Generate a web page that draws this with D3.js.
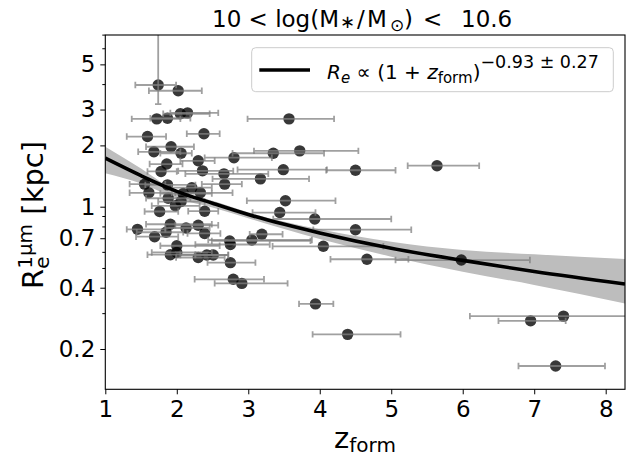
<!DOCTYPE html>
<html lang="en">
<head>
<meta charset="UTF-8">
<title>Re vs zform</title>
<style>
  body { margin: 0; background: #fff; }
  text { font-family: "DejaVu Sans", sans-serif; fill: #000; }
</style>
</head>
<body>
<svg width="629" height="460"></svg>
<script src="https://d3js.org/d3.v7.min.js"></script>
<script>

// one entry per galaxy: formation redshift, its range, and size in kpc
var zForm = [1.74, 2.02, 1.72, 1.87, 2.05, 2.15, 3.57, 1.59, 2.38, 1.92,
             1.68, 2.06, 3.35, 3.72, 2.80, 2.30, 1.86, 2.36, 1.78, 2.66,
             3.49, 4.50, 5.64, 3.17, 2.67, 1.55, 2.21, 1.87, 2.33, 1.61,
             2.09, 1.88, 3.52, 1.98, 2.06, 1.76, 2.39, 3.44, 3.93, 1.91,
             2.30, 1.45, 2.13, 1.85, 2.39, 1.69, 2.74, 2.75, 3.05, 2.00,
             1.91, 2.00, 2.30, 2.42, 2.51, 2.75, 2.79, 2.91, 3.19, 3.94,
             4.50, 4.05, 4.66, 5.98, 7.41, 6.95, 4.39, 7.30];
var zLow = [1.42, 1.61, 1.37, 1.63, 1.81, 1.91, 2.99, 1.30, 2.14, 1.57,
            1.46, 1.77, 2.78, 3.08, 2.39, 2.05, 1.62, 2.02, 1.59, 2.12,
            2.85, 4.09, 5.23, 2.50, 2.35, 1.34, 1.93, 1.56, 1.98, 1.34,
            1.77, 1.57, 2.98, 1.65, 1.74, 1.55, 2.16, 3.06, 3.35, 1.57,
            1.98, 1.30, 1.84, 1.44, 2.15, 1.43, 2.49, 2.26, 2.44, 1.77,
            1.59, 1.65, 1.99, 2.05, 2.26, 2.43, 2.25, 2.53, 3.02, 3.71,
            3.91, 3.34, 4.15, 5.06, 6.10, 6.50, 3.90, 6.78];
var zHigh = [1.99, 2.35, 2.05, 2.19, 2.46, 2.58, 4.20, 1.85, 2.60, 2.24,
             2.05, 2.21, 4.06, 4.54, 3.33, 2.53, 2.08, 2.79, 2.00, 3.28,
             4.10, 5.06, 6.23, 3.85, 2.91, 1.84, 2.49, 2.26, 2.78, 1.93,
             2.49, 2.19, 4.22, 2.32, 2.39, 2.02, 2.58, 3.94, 5.00, 2.49,
             2.58, 1.84, 2.46, 2.09, 2.61, 2.02, 3.87, 3.30, 3.89, 2.60,
             2.26, 2.49, 2.67, 2.72, 2.72, 3.10, 3.22, 3.55, 3.48, 4.19,
             5.28, 4.89, 5.24, 6.94, 8.70, 7.44, 5.13, 7.99];
var reKpc = [3.96, 3.71, 2.70, 2.72, 2.86, 2.89, 2.70, 2.21, 2.28, 1.97,
             1.86, 1.83, 1.83, 1.88, 1.74, 1.68, 1.62, 1.50, 1.49, 1.45,
             1.52, 1.51, 1.59, 1.37, 1.29, 1.29, 1.24, 1.28, 1.17, 1.17,
             1.16, 1.10, 1.07, 1.01, 1.06, 0.947, 0.950, 0.936, 0.870, 0.820,
             0.810, 0.774, 0.786, 0.749, 0.739, 0.712, 0.679, 0.652, 0.686, 0.643,
             0.581, 0.596, 0.563, 0.579, 0.579, 0.531, 0.440, 0.420, 0.732, 0.333,
             0.771, 0.639, 0.552, 0.547, 0.290, 0.275, 0.236, 0.165];

// the only visible vertical error bar
var vErrIndex = [0];
var vErrLow = [3.19];
var vErrHigh = [9.0];

// fitted relation and its shaded range
var fitZ = [1, 1.5, 2, 2.5, 3, 4, 5, 6, 7, 8.27];
var fitRe = [1.73, 1.42, 1.19, 1.04, 0.915, 0.743, 0.625, 0.545, 0.48, 0.417];
var bandLow = [1.46, 1.30, 1.10, 0.99, 0.877, 0.694, 0.568, 0.479, 0.413, 0.335];
var bandHigh = [1.97, 1.54, 1.19, 1.07, 0.939, 0.774, 0.673, 0.613, 0.584, 0.553];

var xTicks = [1, 2, 3, 4, 5, 6, 7, 8];
var yTicks = [0.2, 0.4, 0.7, 1, 2, 3, 5];
var yMinorTicks = [0.3, 0.5, 0.6, 0.8, 0.9, 4, 6, 7];

var svg = d3.select("svg"),
    box = {left: 105.3, right: 625, top: 35, bottom: 389.3};

var x = d3.scaleLinear().domain([1, 8.27]).range([box.left, box.right]);
var y = d3.scaleLog().domain([0.1268, 6.97]).range([box.bottom, box.top]);

svg.append("defs").append("clipPath").attr("id", "plotclip")
    .append("rect")
    .attr("x", box.left).attr("y", box.top)
    .attr("width", box.right - box.left).attr("height", box.bottom - box.top);

var plot = svg.append("g").attr("clip-path", "url(#plotclip)");

// shaded band
var band = d3.area()
    .x(function(d, i) { return x(fitZ[i]); })
    .y0(function(d, i) { return y(bandLow[i]); })
    .y1(function(d, i) { return y(bandHigh[i]); })
    .curve(d3.curveMonotoneX);

plot.append("path")
    .datum(fitZ)
    .attr("d", band)
    .attr("fill", "#bdbdbd");

// points
var idx = d3.range(zForm.length);

plot.selectAll(".dot")
    .data(idx)
    .enter().append("circle")
    .attr("class", "dot")
    .attr("cx", function(i) { return x(zForm[i]); })
    .attr("cy", function(i) { return y(reKpc[i]); })
    .attr("r", 5.7)
    .attr("fill", "#000")
    .attr("fill-opacity", 0.78);

var bars = plot.append("g")
    .attr("stroke", "#808080")
    .attr("stroke-opacity", 0.75)
    .attr("stroke-width", 1.8);

bars.selectAll(".xbar")
    .data(idx)
    .enter().append("path")
    .attr("class", "xbar")
    .attr("fill", "none")
    .attr("d", function(i) {
        var yy = y(reKpc[i]), x0 = x(zLow[i]), x1 = x(zHigh[i]);
        return "M" + x0 + "," + yy + "H" + x1 +
               "M" + x0 + "," + (yy - 3.2) + "V" + (yy + 3.2) +
               "M" + x1 + "," + (yy - 3.2) + "V" + (yy + 3.2);
    });

bars.selectAll(".ybar")
    .data(vErrIndex)
    .enter().append("path")
    .attr("fill", "none")
    .attr("d", function(i, k) {
        var xx = x(zForm[i]), y0 = y(vErrLow[k]), y1 = y(vErrHigh[k]);
        return "M" + xx + "," + y0 + "V" + y1 +
               "M" + (xx - 3.2) + "," + y0 + "H" + (xx + 3.2);
    });

// fit line
var fitLine = d3.line()
    .x(function(d, i) { return x(fitZ[i]); })
    .y(function(d, i) { return y(fitRe[i]); })
    .curve(d3.curveMonotoneX);

plot.append("path")
    .datum(fitZ)
    .attr("d", fitLine)
    .attr("fill", "none")
    .attr("stroke", "#000")
    .attr("stroke-width", 3.6);

// axes
var xAxis = d3.axisBottom(x)
    .tickValues(xTicks)
    .tickSize(5)
    .tickPadding(6)
    .tickFormat(d3.format("d"));

svg.append("g")
    .attr("transform", "translate(0," + box.bottom + ")")
    .call(xAxis)
    .call(function(g) { g.select(".domain").remove(); });

var yAxis = d3.axisLeft(y)
    .tickValues(yTicks)
    .tickSize(5)
    .tickPadding(5)
    .tickFormat(function(d) { return String(d); });

svg.append("g")
    .attr("transform", "translate(" + box.left + ",0)")
    .call(yAxis)
    .call(function(g) { g.select(".domain").remove(); });

svg.append("g")
    .attr("transform", "translate(" + box.left + ",0)")
    .call(d3.axisLeft(y).tickValues(yMinorTicks).tickSize(3).tickFormat(""))
    .call(function(g) { g.select(".domain").remove(); });

svg.selectAll(".tick text")
    .style("font-family", "DejaVu Sans")
    .style("font-size", "23px")
    .attr("fill", "#000");
svg.selectAll(".tick line").attr("stroke", "#000").attr("stroke-width", 1);

svg.append("rect")
    .attr("x", box.left).attr("y", box.top)
    .attr("width", box.right - box.left).attr("height", box.bottom - box.top)
    .attr("fill", "none")
    .attr("stroke", "#000")
    .attr("stroke-width", 1.1);

// title
var title = svg.append("text")
    .attr("x", 212).attr("y", 26.5)
    .style("font-size", "23px");
title.append("tspan").text("10 < log(M");
title.append("tspan").attr("x", 340).attr("dy", 1).style("font-size", "18px").text("\u2217");
title.append("tspan").attr("x", 357).attr("dy", -1).text("/");
title.append("tspan").attr("x", 367).text("M");
title.append("tspan").attr("x", 390).attr("dy", 4).style("font-size", "17px").text("\u2299");
title.append("tspan").attr("x", 404).attr("dy", -4).text(")");
title.append("tspan").attr("x", 423).text("<");
title.append("tspan").attr("x", 461).text("10.6");

// x label
var xLabel = svg.append("text")
    .attr("x", 365).attr("y", 448)
    .attr("text-anchor", "middle")
    .style("font-size", "29px");
xLabel.append("tspan").text("z");
xLabel.append("tspan").attr("dy", 4).style("font-size", "20px").text("form");

// y label
var yLabel = svg.append("text")
    .attr("transform", "translate(43,0) rotate(-90)")
    .attr("x", -289)
    .attr("y", 0)
    .style("font-size", "29px");
yLabel.append("tspan").text("R");
yLabel.append("tspan").attr("dy", 6).style("font-size", "20px").text("e");
yLabel.append("tspan").attr("dx", -12.3).attr("dy", -17).style("font-size", "20px").text("1\u03bcm");
yLabel.append("tspan").attr("dy", 11).text(" [kpc]");

// legend
var legend = svg.append("g");
legend.append("rect")
    .attr("x", 251.7).attr("y", 47.7)
    .attr("width", 361.6).attr("height", 44)
    .attr("rx", 4)
    .attr("fill", "#fff").attr("fill-opacity", 0.8)
    .attr("stroke", "#cccccc").attr("stroke-width", 1);
legend.append("line")
    .attr("x1", 259.3).attr("x2", 310).attr("y1", 70).attr("y2", 70)
    .attr("stroke", "#000").attr("stroke-width", 3.6);

var lt = legend.append("text")
    .attr("x", 327).attr("y", 79)
    .style("font-size", "20px");
lt.append("tspan").style("font-style", "italic").text("R");
lt.append("tspan").attr("dy", 4).style("font-style", "italic").style("font-size", "15px").text("e");
lt.append("tspan").attr("dy", -4).text(" \u221d (1 + ");
lt.append("tspan").style("font-style", "italic").text("z");
lt.append("tspan").attr("dy", 4).style("font-size", "15px").text("form");
lt.append("tspan").attr("dy", -4).text(")");
lt.append("tspan").attr("dy", -11).style("font-size", "17.5px").text("\u22120.93 \u00b1 0.27");

</script>
</body>
</html>
